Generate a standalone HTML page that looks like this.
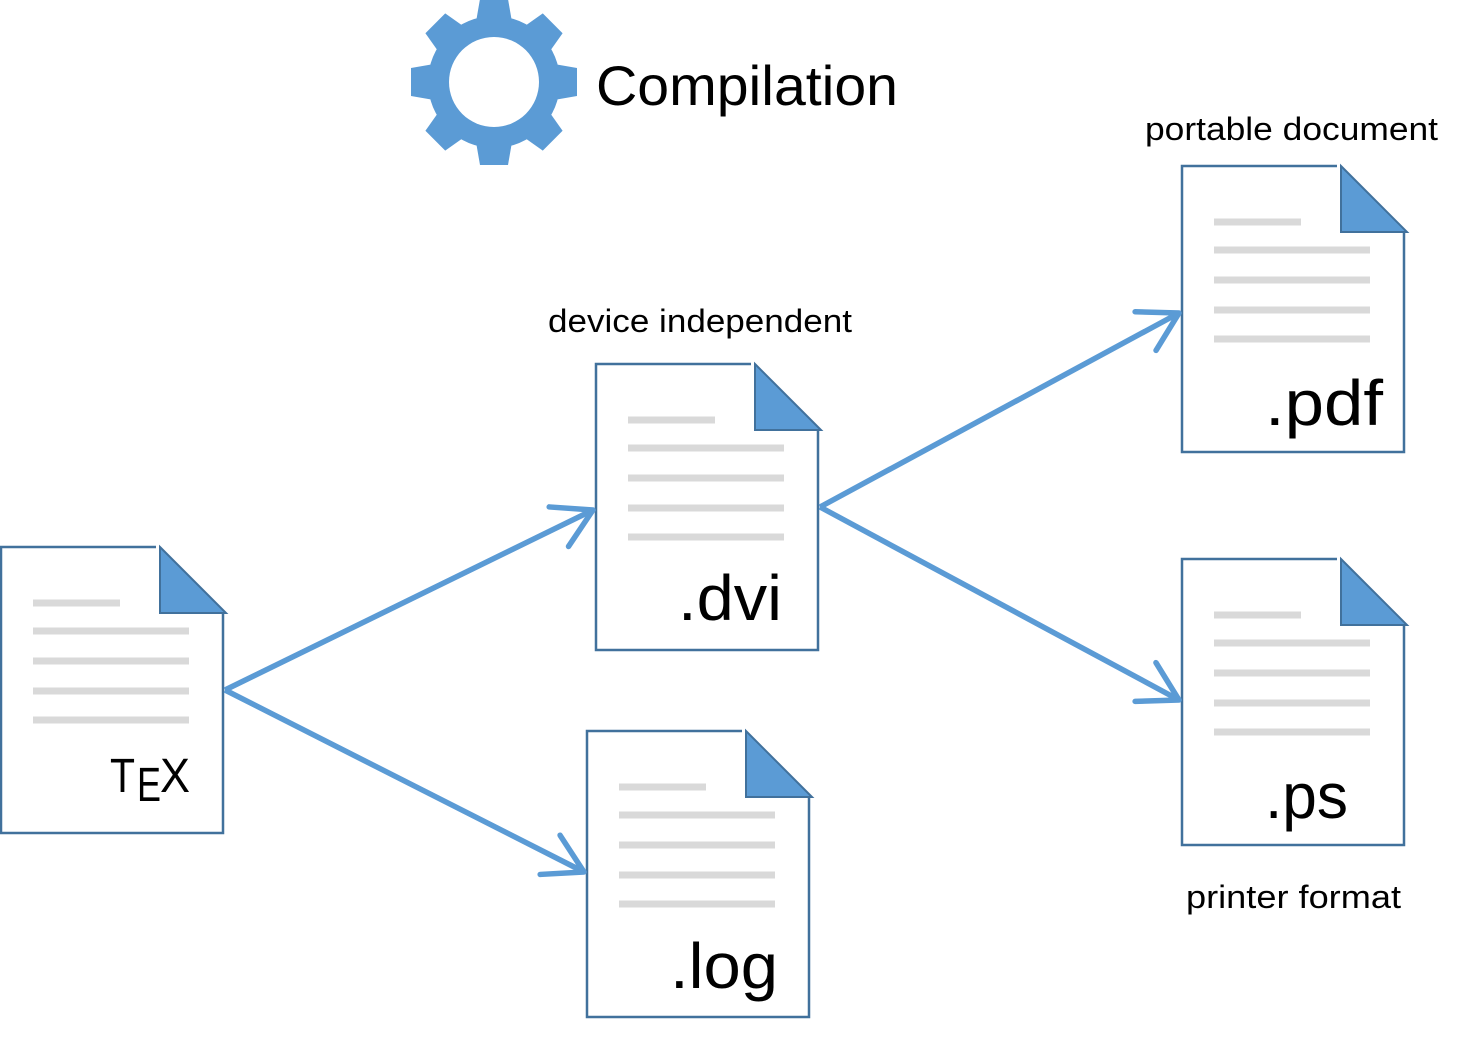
<!DOCTYPE html>
<html><head><meta charset="utf-8"><style>
html,body{margin:0;padding:0;background:#fff;}
svg{display:block;}
text{font-family:"Liberation Sans",sans-serif;fill:#000;}
</style></head><body>
<svg width="1463" height="1054" viewBox="0 0 1463 1054" xmlns="http://www.w3.org/2000/svg">
<defs>
<marker id="ah" markerUnits="userSpaceOnUse" markerWidth="60" markerHeight="60" refX="0" refY="0" viewBox="-45 -30 50 60" orient="auto" overflow="visible">
<path d="M-38,-22 L0,0 L-38,22" fill="none" stroke="#5B9BD5" stroke-width="5.5" stroke-linecap="round" stroke-linejoin="round"/>
</marker>
<g id="doc">
<path d="M155,0 H0 V286 H222 V66" fill="#fff" stroke="#41719C" stroke-width="2.5"/>
<path d="M159,0 L225,66 H159 Z" fill="#5B9BD5" stroke="#41719C" stroke-width="2"/>
<g stroke="#D9D9D9" stroke-width="7">
<line x1="32" y1="56" x2="119" y2="56"/>
<line x1="32" y1="84" x2="188" y2="84"/>
<line x1="32" y1="114" x2="188" y2="114"/>
<line x1="32" y1="144" x2="188" y2="144"/>
<line x1="32" y1="173" x2="188" y2="173"/>
</g>
</g>
</defs>

<g transform="translate(494,82)" fill="#5B9BD5">
<circle r="66"/>
<g id="tooth"><polygon points="-18,-60 18,-60 14,-83 -14,-83"/></g>
<use href="#tooth" transform="rotate(45)"/>
<use href="#tooth" transform="rotate(90)"/>
<use href="#tooth" transform="rotate(135)"/>
<use href="#tooth" transform="rotate(180)"/>
<use href="#tooth" transform="rotate(225)"/>
<use href="#tooth" transform="rotate(270)"/>
<use href="#tooth" transform="rotate(315)"/>
<circle r="45" fill="#fff"/>
</g>
<text x="596" y="105" font-size="56" textLength="302" lengthAdjust="spacingAndGlyphs">Compilation</text>

<use href="#doc" transform="translate(1,547)"/>
<use href="#doc" transform="translate(596,364)"/>
<use href="#doc" transform="translate(587,731)"/>
<use href="#doc" transform="translate(1182,166)"/>
<use href="#doc" transform="translate(1182,559)"/>

<text x="110" y="792" font-size="48" textLength="25" lengthAdjust="spacingAndGlyphs">T</text>
<text x="137" y="801" font-size="48" textLength="24" lengthAdjust="spacingAndGlyphs">E</text>
<text x="160" y="792" font-size="48" textLength="30" lengthAdjust="spacingAndGlyphs">X</text>

<text x="678" y="620" font-size="64" textLength="104" lengthAdjust="spacingAndGlyphs">.dvi</text>
<text x="670" y="988" font-size="64" textLength="108" lengthAdjust="spacingAndGlyphs">.log</text>
<text x="1265" y="425" font-size="64" textLength="118" lengthAdjust="spacingAndGlyphs">.pdf</text>
<text x="1265" y="818" font-size="64" textLength="83" lengthAdjust="spacingAndGlyphs">.ps</text>

<text x="548" y="332" font-size="32" textLength="304" lengthAdjust="spacingAndGlyphs">device independent</text>
<text x="1145" y="140" font-size="32" textLength="293" lengthAdjust="spacingAndGlyphs">portable document</text>
<text x="1186" y="908" font-size="32" textLength="215" lengthAdjust="spacingAndGlyphs">printer format</text>

<g stroke="#5B9BD5" stroke-width="5.5" fill="none">
<line x1="225" y1="690" x2="593" y2="510" marker-end="url(#ah)"/>
<line x1="225" y1="690" x2="584" y2="872" marker-end="url(#ah)"/>
<line x1="820" y1="507" x2="1179" y2="313" marker-end="url(#ah)"/>
<line x1="820" y1="507" x2="1179" y2="700" marker-end="url(#ah)"/>
</g>
</svg>
</body></html>
